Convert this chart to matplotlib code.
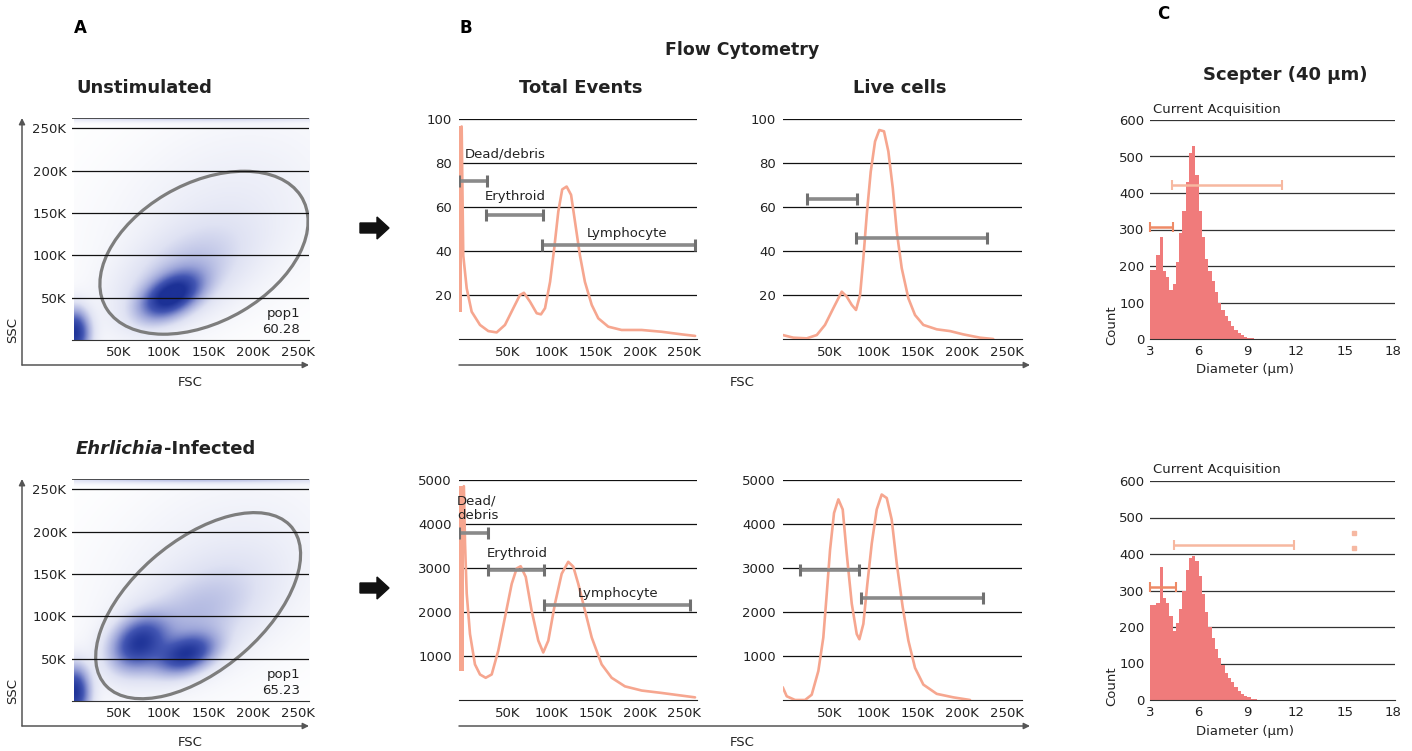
import matplotlib
matplotlib.use('Agg')
import matplotlib.pyplot as plt
import numpy as np
from matplotlib.patches import Ellipse, FancyArrow
from matplotlib.colors import LinearSegmentedColormap, PowerNorm

W, H = 1412, 751

# ---------------- data ----------------
# FSC/SSC scatter axes
scat_ticks = [50000, 100000, 150000, 200000, 250000]
scat_labels = ['50K', '100K', '150K', '200K', '250K']

# density components for the dot plots: centre x/y, spread x/y, correlation, weight
unstim_cx = [108e3, 0, 120e3, 165e3, 130e3]
unstim_cy = [52e3, 8e3, 75e3, 150e3, 262e3]
unstim_sx = [21e3, 11e3, 48e3, 80e3, 120e3]
unstim_sy = [17e3, 18e3, 40e3, 70e3, 3e3]
unstim_rho = [0.45, 0.0, 0.5, 0.3, 0.0]
unstim_w = [1.0, 0.95, 0.22, 0.07, 0.25]

ehr_cx = [72e3, 125e3, 0, 130e3, 160e3, 130e3]
ehr_cy = [68e3, 55e3, 10e3, 95e3, 150e3, 262e3]
ehr_sx = [20e3, 21e3, 11e3, 52e3, 80e3, 120e3]
ehr_sy = [20e3, 15e3, 20e3, 44e3, 75e3, 3e3]
ehr_rho = [0.25, 0.35, 0.0, 0.55, 0.3, 0.0]
ehr_w = [0.8, 0.8, 0.95, 0.22, 0.07, 0.25]

# gate ellipses: centre, width, height, angle
unstim_gate = (145e3, 103e3, 254e3, 162e3, 32)
ehr_gate = (138.5e3, 112.5e3, 279e3, 150e3, 43)
unstim_pop = '60.28'
ehr_pop = '65.23'

# FSC histograms (x in thousands); spike = (x0, x1, low, high) of the first bin
tot1_spike = (-6, -1.5, 12.4, 96.6)
tot1_x = [-1.5, 0.3, 4.2, 9.8, 19.2, 28.6, 38, 47.4, 56.8, 64.3, 68.8, 75.6,
          83.2, 88, 92.6, 98.3, 103, 107.6, 112, 117, 122, 126.4, 132, 137.6,
          145.3, 152.7, 164, 179, 201.7, 224, 247, 262]
tot1_y = [96.6, 38, 23, 12.4, 6.4, 3.6, 3, 6.4, 14, 20, 21, 17, 11.7, 11.2, 14,
          26, 41.3, 58, 68, 69.3, 65.5, 53.4, 38, 26, 15.5, 9.4, 5.6, 4.1, 4.1,
          3.3, 2.1, 1.4]
live1_x = [-2.6, 9.4, 24.5, 35.8, 45.1, 54.5, 64, 69.6, 75.3, 80.1, 84.7, 88.4,
           92.2, 96.7, 101.6, 106.4, 111.7, 116.6, 121.6, 126.1, 131.7, 139.2,
           146.7, 156.1, 171.2, 186.2, 201.2, 220, 235]
live1_y = [1.8, 0.6, 0.3, 1.8, 6.4, 14, 21.5, 19.3, 15.5, 13.2, 20, 36.7, 56.4,
           76, 89.8, 95, 94.4, 85.3, 68.6, 48.8, 32.2, 18.5, 10.9, 6.4, 4.4, 3.6,
           2.1, 0.6, 0]
tot2_spike = (-6, 1.0, 660, 4860)
tot2_x = [1.0, 2.3, 4.2, 7.9, 13.5, 19.2, 25.6, 32.4, 39.8, 47.4, 55, 60.6, 65.1,
          70.8, 77.5, 85, 90.6, 96.3, 103.8, 111.4, 118.8, 124.5, 130.1, 137.7,
          145.3, 156.5, 167.8, 182.8, 201.7, 224.3, 246.8, 261.9]
tot2_y = [4860, 3560, 2420, 1500, 810, 580, 505, 580, 1120, 1880, 2640, 2990,
          3040, 2800, 2030, 1350, 1080, 1350, 2190, 2870, 3140, 3030, 2640, 2030,
          1420, 810, 505, 310, 215, 160, 100, 60]
live2_x = [-2.6, 1.9, 11.3, 22.6, 30.1, 37.6, 43.2, 47.1, 50.8, 55.3, 60.2, 65.1,
           69.6, 75.3, 80.9, 83.9, 88.4, 92.9, 97.9, 103.5, 109.1, 114.8, 120.4,
           126.1, 132.8, 139.2, 146.7, 156.1, 171.2, 190, 208.8]
live2_y = [290, 85, 0, 0, 120, 660, 1420, 2420, 3410, 4250, 4560, 4330, 3330,
           2190, 1500, 1380, 1730, 2640, 3560, 4330, 4670, 4590, 4100, 3100,
           2110, 1350, 730, 350, 140, 60, 0]

# gates (x0, x1, y)
tot1_gates = [(-4.5, 27, 71.6), (26, 90, 56.4), (89, 262, 42.8)]
live1_gates = [(25, 81, 63.7), (80, 228, 46)]
tot2_gates = [(-4.5, 28, 3800), (28, 92, 2960), (91, 256, 2160)]
live2_gates = [(17, 83.5, 2960), (86, 223, 2320)]

fsc_ticks = [50, 100, 150, 200, 250]
fsc_labels = ['50K', '100K', '150K', '200K', '250K']

# Scepter diameter histograms (0.2 um bins starting at 3.0 um)
diam_bins = np.round(np.arange(3.0, 10.0, 0.2), 1)
count1 = [190, 190, 230, 280, 185, 170, 135, 150, 210, 290, 350, 430, 510, 530,
          450, 350, 280, 220, 185, 160, 130, 100, 80, 62, 48, 35, 24, 16, 10, 6,
          4, 2, 1, 1, 0]
count2 = [260, 260, 265, 365, 280, 265, 230, 190, 210, 250, 300, 355, 390, 395,
          380, 340, 290, 240, 200, 170, 140, 115, 95, 75, 60, 48, 35, 25, 17, 11,
          7, 4, 2, 1, 1]
sc1_gates = [(3.0, 4.4, 306, '#ee8a66'), (4.35, 11.15, 423, '#f7b8a0')]
sc2_gates = [(3.0, 4.6, 309, '#ee8a66'), (4.5, 11.9, 424, '#f7b8a0')]

# ---------------- drawing ----------------
fig = plt.figure(figsize=(W / 100, H / 100), dpi=100)
plt.rcParams['font.family'] = 'DejaVu Sans'

curve_col = '#f6a68f'
gate_col = '#8a8a8a'
hist_col = '#f07b7b'
txt = '#222222'


def add_ax(l, t, r, b):
    return fig.add_axes([l / W, 1 - b / H, (r - l) / W, (b - t) / H])


def ftext(px, py, s, **kw):
    return fig.text(px / W, 1 - py / H, s, **kw)


def farrow(x0, y0, x1, y1):
    fig.add_artist(plt.Annotation('', xy=(x1, H - y1), xytext=(x0, H - y0),
                                  xycoords='figure pixels',
                                  arrowprops=dict(arrowstyle='-|>', color='#555555',
                                                  lw=1.1, mutation_scale=9,
                                                  shrinkA=0, shrinkB=0)))


blue_cmap = LinearSegmentedColormap.from_list(
    'dens', ['#ffffff', '#dfe2f3', '#9aa3d8', '#4356b3', '#1c3196'])


def density(cx, cy, sx, sy, rho, w):
    gx = np.linspace(0, 262e3, 300)
    gy = np.linspace(0, 262e3, 300)
    X, Y = np.meshgrid(gx, gy)
    Z = np.zeros_like(X)
    for i in range(len(cx)):
        dx = (X - cx[i]) / sx[i]
        dy = (Y - cy[i]) / sy[i]
        q = (dx ** 2 - 2 * rho[i] * dx * dy + dy ** 2) / (1 - rho[i] ** 2)
        Z += w[i] * np.exp(-0.5 * q)
    return Z


def scatter_panel(top, comps, gate, pop):
    ax = add_ax(72, top, 309, top + 222)
    Z = density(*comps)
    ax.imshow(Z, origin='lower', extent=(0, 262e3, 0, 262e3), aspect='auto',
              cmap=blue_cmap, norm=PowerNorm(0.7, vmin=0, vmax=1.0),
              interpolation='bilinear')
    ax.set_xlim(-2e3, 262e3)
    ax.set_ylim(0, 262e3)
    for v in scat_ticks:
        ax.axhline(v, color='#111111', lw=0.9)
    ax.axhline(262e3, color='#333333', lw=1.2)
    for s in ['left', 'right', 'top']:
        ax.spines[s].set_visible(False)
    ax.spines['bottom'].set_color('#333333')
    cx, cy, gw, gh, ang = gate
    ax.add_patch(Ellipse((cx, cy), gw, gh, angle=ang, fill=False,
                         ec='#7d7d7d', lw=2.3))
    ax.set_xticks(scat_ticks)
    ax.set_xticklabels(scat_labels)
    ax.set_yticks(scat_ticks)
    ax.set_yticklabels(scat_labels)
    ax.tick_params(length=0, labelsize=9.5, colors=txt, pad=4)
    ax.text(252e3, 22e3, 'pop1\n' + pop, ha='right', va='center',
            fontsize=9.5, color=txt, linespacing=1.3)
    # outer axis arrows
    farrow(22, top + 247, 22, top)
    farrow(22, top + 247, 309, top + 247)
    ftext(13, top + 212, 'SSC', rotation=90, ha='center', va='center',
          fontsize=9.5, color=txt)
    ftext(190, top + 264, 'FSC', ha='center', va='center', fontsize=9.5,
          color=txt)
    return ax


def fsc_panel(l, r, top, xs, ys, gates, ymax, yticks, x0, spike=None):
    ax = add_ax(l, top, r, top + 220)
    ax.set_xlim(x0, x0 + (r - l) / 44.3 * 50)
    ax.set_ylim(0, ymax)
    for v in yticks:
        ax.axhline(v, color='#111111', lw=0.9, zorder=1)
    for s in ['left', 'right', 'top']:
        ax.spines[s].set_visible(False)
    ax.spines['bottom'].set_color('#222222')
    if spike is not None:
        sx0, sx1, lo, hi = spike
        ax.fill_between([sx0, sx1], lo, hi, color=curve_col, lw=0, zorder=3)
    ax.plot(xs, ys, color=curve_col, lw=1.9, solid_joinstyle='round',
            solid_capstyle='round', zorder=3)
    for g0, g1, gy in gates:
        ax.plot([g0, g1], [gy, gy], color=gate_col, lw=2.6, zorder=4,
                solid_capstyle='butt')
        ax.plot([g0, g1], [gy, gy], ls='none', marker='|', ms=8, mew=2.2,
                color='#707070', zorder=4)
    ax.set_xticks(fsc_ticks)
    ax.set_xticklabels(fsc_labels)
    ax.set_yticks(yticks)
    ax.tick_params(length=0, labelsize=9.5, colors=txt, pad=5)
    return ax


# panel A
ftext(80, 28, 'A', fontsize=12, fontweight='bold', ha='center', va='center')
ftext(76, 88, 'Unstimulated', fontsize=13, fontweight='bold', va='center',
      color=txt)
t1 = ftext(76, 449, 'Ehrlichia', fontsize=13, fontweight='bold',
           fontstyle='italic', va='center', color=txt)
fig.add_artist(plt.Annotation('-Infected', xy=(1, 0.5), xycoords=t1,
                              va='center', ha='left', fontsize=13,
                              fontweight='bold', color=txt))

scatter_panel(118, (unstim_cx, unstim_cy, unstim_sx, unstim_sy, unstim_rho,
                    unstim_w), unstim_gate, unstim_pop)
scatter_panel(479, (ehr_cx, ehr_cy, ehr_sx, ehr_sy, ehr_rho, ehr_w),
              ehr_gate, ehr_pop)

# arrows between A and B
for ay in (228, 588):
    fig.add_artist(FancyArrow(3.60, (H - ay) / 100, 0.17, 0, width=0.10,
                              head_width=0.22, head_length=0.12,
                              length_includes_head=False, color='#111111',
                              transform=fig.dpi_scale_trans))

# panel B
ftext(466, 28, 'B', fontsize=12, fontweight='bold', ha='center', va='center')
ftext(742, 50, 'Flow Cytometry', fontsize=12.5, fontweight='bold',
      ha='center', va='center', color=txt)
ftext(581, 88, 'Total Events', fontsize=13, fontweight='bold', ha='center',
      va='center', color=txt)
ftext(900, 88, 'Live cells', fontsize=13, fontweight='bold', ha='center',
      va='center', color=txt)

a = fsc_panel(459, 697, 119, tot1_x, tot1_y, tot1_gates, 100,
              [20, 40, 60, 80, 100], -4.5, tot1_spike)
a.text(2, 84, 'Dead/debris', fontsize=9.5, color=txt, va='center')
a.text(25, 64.6, 'Erythroid', fontsize=9.5, color=txt, va='center')
a.text(185, 47.8, 'Lymphocyte', fontsize=9.5, color=txt, va='center',
       ha='center')
fsc_panel(783, 1022, 119, live1_x, live1_y, live1_gates, 100,
          [20, 40, 60, 80, 100], -2.3)

a = fsc_panel(459, 697, 480, tot2_x, tot2_y, tot2_gates, 5000,
              [1000, 2000, 3000, 4000, 5000], -4.5, tot2_spike)
a.text(-6.5, 4350, 'Dead/\ndebris', fontsize=9.5, color=txt, va='center',
       linespacing=1.15, clip_on=False, zorder=5)
a.text(27, 3330, 'Erythroid', fontsize=9.5, color=txt, va='center')
a.text(175, 2430, 'Lymphocyte', fontsize=9.5, color=txt, va='center',
       ha='center')
fsc_panel(783, 1022, 480, live2_x, live2_y, live2_gates, 5000,
          [1000, 2000, 3000, 4000, 5000], -2.3)

for top in (365, 726):
    farrow(459, top, 1030, top)
    ftext(742, top + 17, 'FSC', ha='center', va='center', fontsize=9.5,
          color=txt)

# panel C
ftext(1163, 14, 'C', fontsize=12, fontweight='bold', ha='center', va='center')
ftext(1285, 75, 'Scepter (40 \u03bcm)', fontsize=13, fontweight='bold',
      ha='center', va='center', color=txt)


def scepter_panel(top, counts, gates, marks):
    ax = add_ax(1150, top, 1395, top + 219)
    ax.set_xlim(3, 18.1)
    ax.set_ylim(0, 600)
    for v in range(100, 700, 100):
        ax.axhline(v, color='#333333', lw=0.9, zorder=1)
    ax.bar(diam_bins, counts, width=0.2, align='edge', color=hist_col,
           lw=0, zorder=2)
    for s in ['left', 'right', 'top']:
        ax.spines[s].set_visible(False)
    ax.spines['bottom'].set_color('#333333')
    for g0, g1, gy, c in gates:
        ax.plot([g0, g1], [gy, gy], color=c, lw=1.8, zorder=3,
                solid_capstyle='butt')
        ax.plot([g0, g1], [gy, gy], ls='none', marker='|', ms=7, mew=1.5,
                color=c, zorder=3, clip_on=False)
    if marks:
        ax.plot([15.6, 15.6], [457, 416], ls='none', marker='s', ms=3.5,
                color='#f6b8a2', zorder=3)
    ax.set_xticks([3, 6, 9, 12, 15, 18])
    ax.set_yticks(range(0, 700, 100))
    ax.tick_params(length=0, labelsize=9.5, colors=txt, pad=4)
    ftext(1153, top - 11, 'Current Acquisition', fontsize=9.5, color=txt,
          va='center')
    ftext(1112, top + 205, 'Count', rotation=90, ha='center', va='center',
          fontsize=9.5, color=txt)
    ftext(1245, top + 250, 'Diameter (\u03bcm)', ha='center', va='center',
          fontsize=9.5, color=txt)
    return ax


scepter_panel(120, count1, sc1_gates, False)
scepter_panel(481, count2, sc2_gates, True)

fig.savefig('out.png', dpi=100)
